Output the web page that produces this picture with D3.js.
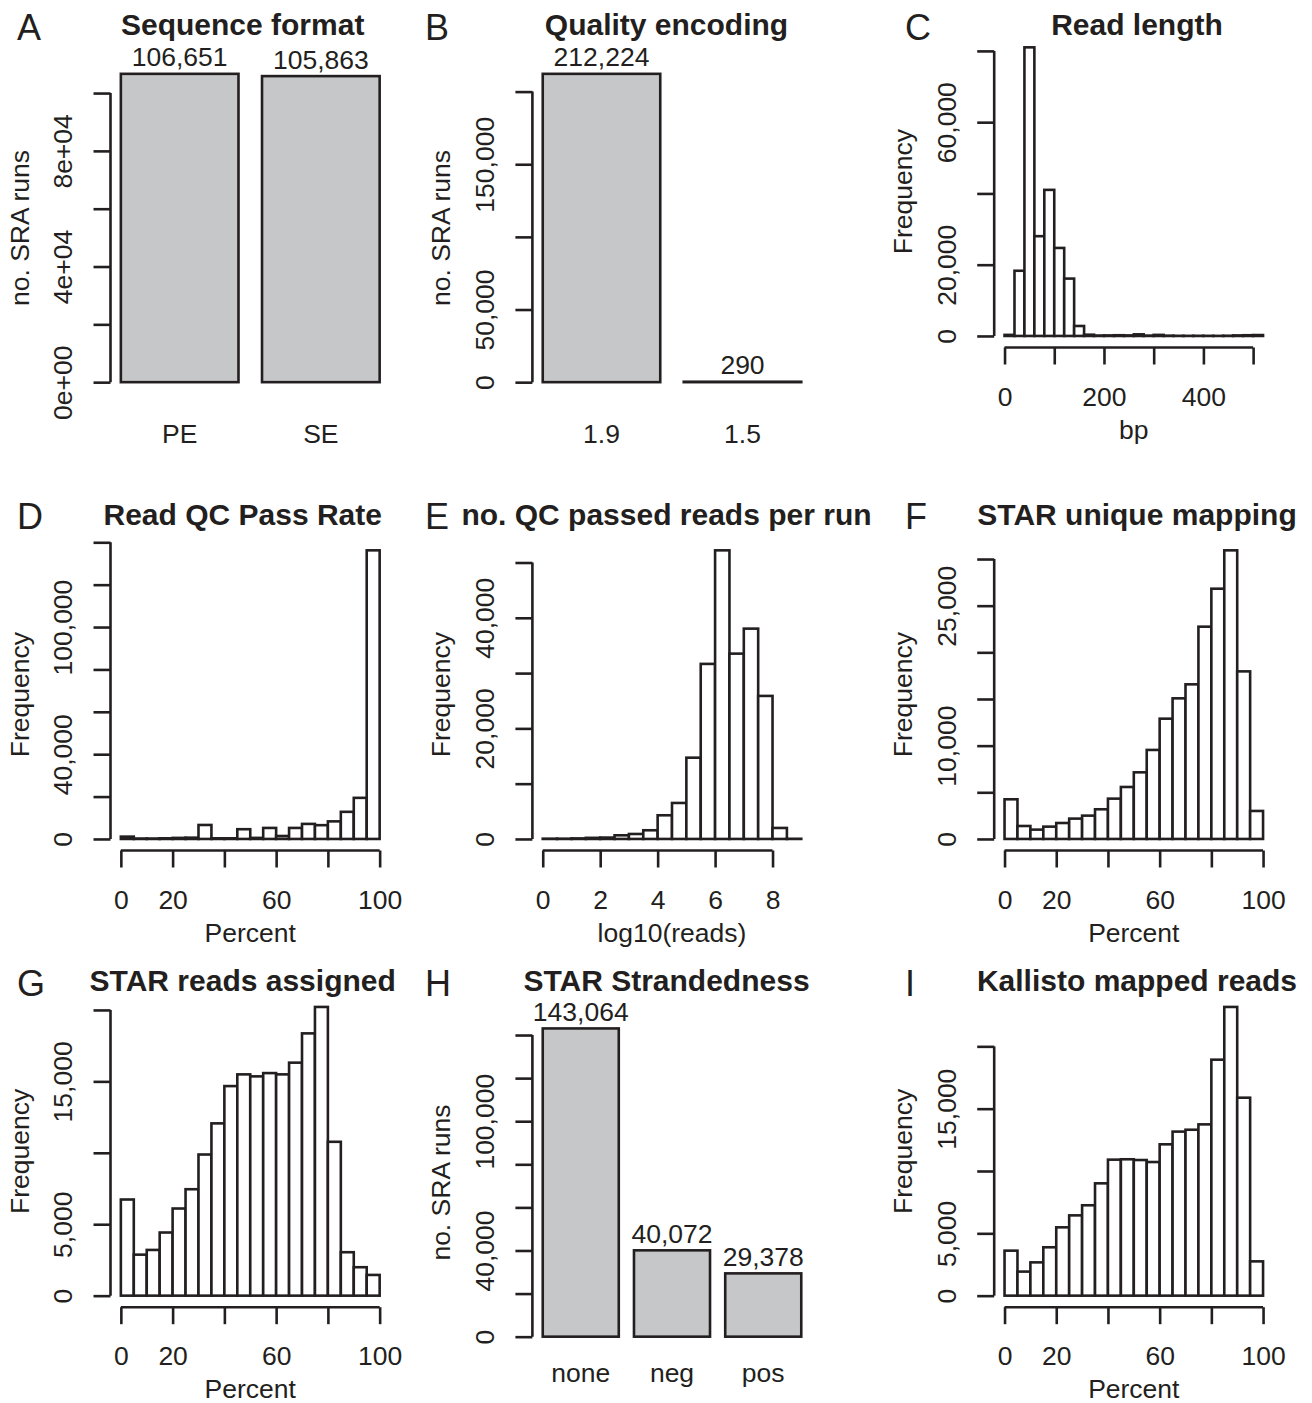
<!DOCTYPE html>
<html>
<head>
<meta charset="utf-8">
<script src="https://cdn.jsdelivr.net/npm/d3@7"></script>
<style>
  body { margin: 0; background: #fff; }
  svg text { font-family: 'Liberation Sans', Arial, Helvetica, sans-serif; fill: #231f20; }
</style>
</head>
<body>
<svg id="chart" width="1312" height="1403"></svg>
<script>
// ---- data ----
const formatCats = ['PE', 'SE'];
const formatRuns = [106651, 105863];
const formatYTicks = [0, 20000, 40000, 60000, 80000, 100000];
const formatYLabels = [0, 40000, 80000];

const qualityCats = ['1.9', '1.5'];
const qualityRuns = [212224, 290];
const qualityYTicks = [0, 50000, 100000, 150000, 200000];
const qualityYLabels = [0, 50000, 150000];

const strandCats = ['none', 'neg', 'pos'];
const strandRuns = [143064, 40072, 29378];
const strandYTicks = [0, 20000, 40000, 60000, 80000, 100000, 120000, 140000];
const strandYLabels = [0, 40000, 100000];

// read length, bins of 20 bp from 0 to 520
const readLengthBreaks = d3.range(0, 521, 20);
const readLengthCounts = [300, 18300, 81000, 28000, 41000, 24700, 16100, 2800, 350, 120, 150, 200, 150,
  450, 100, 300, 80, 40, 30, 40, 30, 20, 60, 150, 200, 250];
const readLengthXTicks = [0, 100, 200, 300, 400, 500];
const readLengthXLabels = [0, 200, 400];
const readLengthYTicks = [0, 20000, 40000, 60000, 80000];
const readLengthYLabels = [0, 20000, 60000];

// percent histograms, bins of 5
const percentBreaks = d3.range(0, 101, 5);
const percentXTicks = [0, 20, 40, 60, 80, 100];
const percentXLabels = [0, 20, 60, 100];

const qcPassCounts = [1100, 200, 200, 300, 500, 600, 6600, 300, 300, 4600, 500, 5200, 1400, 5200, 7100,
  6500, 8300, 12800, 19400, 136200];
const qcPassYTicks = [0, 20000, 40000, 60000, 80000, 100000, 120000, 140000];
const qcPassYLabels = [0, 40000, 100000];

// log10(reads), bins of 0.5 from 0 to 9
const readsBreaks = d3.range(0, 9.01, 0.5);
const readsCounts = [50, 50, 100, 200, 250, 660, 900, 1570, 4280, 6510, 14700, 31660, 52200, 33520,
  38040, 25870, 1990, 30];
const readsXTicks = [0, 2, 4, 6, 8];
const readsXLabels = [0, 2, 4, 6, 8];
const readsYTicks = [0, 10000, 20000, 30000, 40000, 50000];
const readsYLabels = [0, 20000, 40000];

const uniqueCounts = [4250, 1390, 1000, 1320, 1710, 2180, 2500, 3180, 4320, 5570, 7140, 9540, 12890,
  15070, 16570, 22750, 26820, 30930, 17960, 3000];
const uniqueYTicks = [0, 5000, 10000, 15000, 20000, 25000, 30000];
const uniqueYLabels = [0, 10000, 25000];

const assignedCounts = [6730, 2870, 3200, 4420, 6100, 7450, 9880, 12060, 14670, 15490, 15350, 15580,
  15490, 16310, 18360, 20210, 10770, 3040, 1990, 1450];
const kallistoCounts = [3610, 1930, 2670, 3880, 5480, 6440, 7250, 9010, 10910, 10940, 10880, 10720,
  12140, 13160, 13310, 13740, 18930, 23160, 15880, 2750];
const fiveKYTicks = [0, 5000, 10000, 15000, 20000];
const fiveKYLabels = [0, 5000, 15000];

// ---- layout ----
const cols = [
  { left: 110.5, right: 390, titleX: 242.7, letterX: 17 },
  { left: 532.4, right: 811.6, titleX: 666.5, letterX: 425 },
  { left: 994.2, right: 1273.4, titleX: 1137, letterX: 905 }
];
const rows = [
  { histTop: 35.8, histBottom: 347.5, barTop: 61.5, barBottom: 394.5, catY: 443.3, titleY: 35, letterY: 39.5 },
  { histTop: 538.8, histBottom: 850.5, titleY: 524.5, letterY: 529.3 },
  { histTop: 995.4, histBottom: 1307.2, barTop: 1016.1, barBottom: 1349, catY: 1381.7, titleY: 991, letterY: 996 }
];
const tickLen = 17;
const lineW = 2.6;
const ink = '#231f20';
const barFill = '#c6c7c9';

const svg = d3.select('#chart');
const comma = d3.format(',');
const sci = v => v === 0 ? '0e+00' : d3.format('.0e')(v).replace(/e\+(\d)$/, 'e+0$1');

function ext(lo, hi) {
  const d = (hi - lo) * 0.04;
  return [lo - d, hi + d];
}

function panelHeader(g, p, col, row) {
  g.append('text')
    .attr('x', col.letterX).attr('y', row.letterY)
    .style('font-size', '36px')
    .text(p.letter);
  g.append('text')
    .attr('x', col.titleX).attr('y', row.titleY)
    .attr('text-anchor', 'middle')
    .style('font-size', '30px').style('font-weight', 'bold')
    .text(p.title);
}

function yAxis(g, y, x0, ticks, labels, fmt) {
  const ax = g.append('g')
    .attr('transform', `translate(${x0},0)`)
    .call(d3.axisLeft(y)
      .tickValues(ticks)
      .tickSize(tickLen)
      .tickFormat(d => labels.includes(d) ? fmt(d) : ''));
  ax.select('.domain').remove();
  ax.append('line')
    .attr('y1', y(ticks[0])).attr('y2', y(ticks[ticks.length - 1]))
    .attr('stroke', ink).attr('stroke-width', lineW);
  ax.selectAll('.tick line').attr('stroke', ink).attr('stroke-width', lineW);
  ax.selectAll('.tick text')
    .attr('x', null).attr('dy', null)
    .attr('transform', 'translate(-38.5,0) rotate(-90)')
    .attr('text-anchor', 'middle')
    .attr('fill', ink)
    .style('font-size', '26.5px')
    .style('font-family', "'Liberation Sans', Arial, sans-serif");
}

function xAxis(g, x, y0, ticks, labels) {
  const ax = g.append('g')
    .attr('transform', `translate(0,${y0})`)
    .call(d3.axisBottom(x)
      .tickValues(ticks)
      .tickSize(tickLen)
      .tickFormat(d => labels.includes(d) ? comma(d) : ''));
  ax.select('.domain').remove();
  ax.append('line')
    .attr('x1', x(ticks[0])).attr('x2', x(ticks[ticks.length - 1]))
    .attr('stroke', ink).attr('stroke-width', lineW);
  ax.selectAll('.tick line').attr('stroke', ink).attr('stroke-width', lineW);
  ax.selectAll('.tick text')
    .attr('y', 58).attr('dy', null)
    .attr('fill', ink)
    .style('font-size', '26.5px')
    .style('font-family', "'Liberation Sans', Arial, sans-serif");
}

function yTitle(g, x0, top, bottom, label) {
  g.append('text')
    .attr('transform', `translate(${x0 - 82},${(top + bottom) / 2}) rotate(-90)`)
    .attr('text-anchor', 'middle')
    .style('font-size', '26.5px')
    .text(label);
}

function histPanel(p) {
  const col = cols[p.col], row = rows[p.row];
  const g = svg.append('g');
  const x = d3.scaleLinear()
    .domain(ext(p.breaks[0], p.breaks[p.breaks.length - 1]))
    .range([col.left, col.right]);
  const y = d3.scaleLinear()
    .domain(ext(0, d3.max(p.counts)))
    .range([row.histBottom, row.histTop]);

  g.selectAll('rect.bin')
    .data(p.counts)
    .join('rect')
    .attr('class', 'bin')
    .attr('x', (d, i) => x(p.breaks[i]))
    .attr('width', (d, i) => x(p.breaks[i + 1]) - x(p.breaks[i]))
    .attr('y', d => y(d))
    .attr('height', d => y(0) - y(d))
    .attr('fill', '#fff')
    .attr('stroke', ink)
    .attr('stroke-width', lineW);

  yAxis(g, y, col.left, p.yTicks, p.yLabels, comma);
  xAxis(g, x, row.histBottom, p.xTicks, p.xLabels);
  yTitle(g, col.left, row.histTop, row.histBottom, 'Frequency');
  g.append('text')
    .attr('x', (col.left + col.right) / 2).attr('y', row.histBottom + 91)
    .attr('text-anchor', 'middle')
    .style('font-size', '26.5px')
    .text(p.xTitle);
  panelHeader(g, p, col, row);
}

function barPanel(p) {
  const col = cols[p.col], row = rows[p.row];
  const g = svg.append('g');
  const n = p.cats.length;
  const xLin = d3.scaleLinear()
    .domain(ext(0.2, 1.2 * n))
    .range([col.left, col.right]);
  const x = d3.scaleBand()
    .domain(p.cats)
    .range([xLin(0), xLin(1.2 * n + 0.2)])
    .paddingInner(1 / 6)
    .paddingOuter(1 / 6);
  const y = d3.scaleLinear()
    .domain(ext(0, d3.max(p.values)))
    .range([row.barBottom, row.barTop]);

  g.selectAll('rect.bar')
    .data(p.values)
    .join('rect')
    .attr('class', 'bar')
    .attr('x', (d, i) => x(p.cats[i]))
    .attr('width', x.bandwidth())
    .attr('y', d => y(d))
    .attr('height', d => y(0) - y(d))
    .attr('fill', barFill)
    .attr('stroke', ink)
    .attr('stroke-width', lineW);

  g.selectAll('text.value')
    .data(p.values)
    .join('text')
    .attr('class', 'value')
    .attr('x', (d, i) => x(p.cats[i]) + x.bandwidth() / 2)
    .attr('y', d => y(d) - 7.5)
    .attr('text-anchor', 'middle')
    .style('font-size', '26.5px')
    .text(d => comma(d));

  g.selectAll('text.cat')
    .data(p.cats)
    .join('text')
    .attr('class', 'cat')
    .attr('x', d => x(d) + x.bandwidth() / 2)
    .attr('y', row.catY)
    .attr('text-anchor', 'middle')
    .style('font-size', '26.5px')
    .text(d => d);

  yAxis(g, y, col.left, p.yTicks, p.yLabels, p.fmt);
  yTitle(g, col.left, row.barTop, row.barBottom, 'no. SRA runs');
  panelHeader(g, p, col, row);
}

barPanel({ letter: 'A', title: 'Sequence format', col: 0, row: 0, cats: formatCats, values: formatRuns,
  yTicks: formatYTicks, yLabels: formatYLabels, fmt: sci });
barPanel({ letter: 'B', title: 'Quality encoding', col: 1, row: 0, cats: qualityCats, values: qualityRuns,
  yTicks: qualityYTicks, yLabels: qualityYLabels, fmt: comma });
histPanel({ letter: 'C', title: 'Read length', col: 2, row: 0, breaks: readLengthBreaks, counts: readLengthCounts,
  xTicks: readLengthXTicks, xLabels: readLengthXLabels, yTicks: readLengthYTicks, yLabels: readLengthYLabels, xTitle: 'bp' });

histPanel({ letter: 'D', title: 'Read QC Pass Rate', col: 0, row: 1, breaks: percentBreaks, counts: qcPassCounts,
  xTicks: percentXTicks, xLabels: percentXLabels, yTicks: qcPassYTicks, yLabels: qcPassYLabels, xTitle: 'Percent' });
histPanel({ letter: 'E', title: 'no. QC passed reads per run', col: 1, row: 1, breaks: readsBreaks, counts: readsCounts,
  xTicks: readsXTicks, xLabels: readsXLabels, yTicks: readsYTicks, yLabels: readsYLabels, xTitle: 'log10(reads)' });
histPanel({ letter: 'F', title: 'STAR unique mapping', col: 2, row: 1, breaks: percentBreaks, counts: uniqueCounts,
  xTicks: percentXTicks, xLabels: percentXLabels, yTicks: uniqueYTicks, yLabels: uniqueYLabels, xTitle: 'Percent' });

histPanel({ letter: 'G', title: 'STAR reads assigned', col: 0, row: 2, breaks: percentBreaks, counts: assignedCounts,
  xTicks: percentXTicks, xLabels: percentXLabels, yTicks: fiveKYTicks, yLabels: fiveKYLabels, xTitle: 'Percent' });
barPanel({ letter: 'H', title: 'STAR Strandedness', col: 1, row: 2, cats: strandCats, values: strandRuns,
  yTicks: strandYTicks, yLabels: strandYLabels, fmt: comma });
histPanel({ letter: 'I', title: 'Kallisto mapped reads', col: 2, row: 2, breaks: percentBreaks, counts: kallistoCounts,
  xTicks: percentXTicks, xLabels: percentXLabels, yTicks: fiveKYTicks, yLabels: fiveKYLabels, xTitle: 'Percent' });
</script>
</body>
</html>
